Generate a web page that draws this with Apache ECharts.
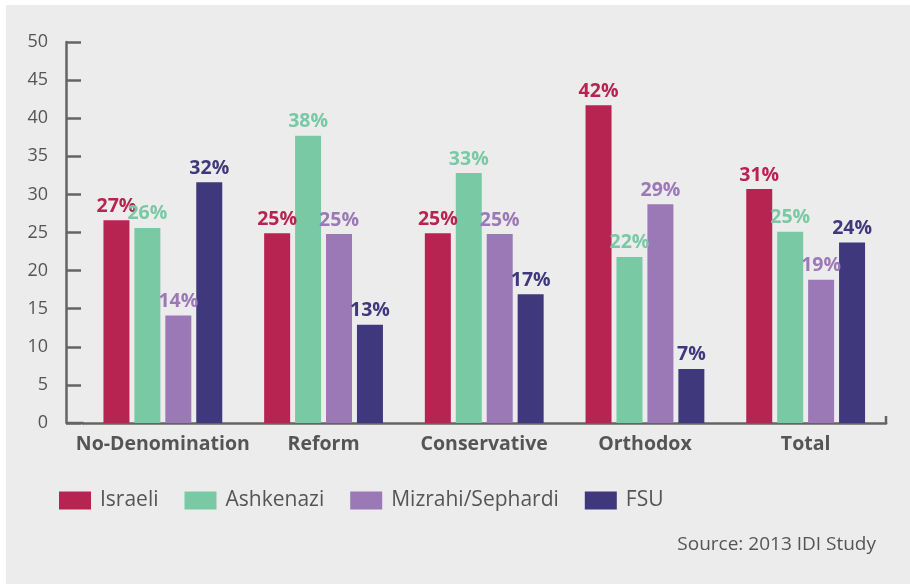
<!DOCTYPE html>
<html>
<head>
<meta charset="utf-8">
<script src="https://cdn.jsdelivr.net/npm/echarts@6/dist/echarts.min.js"></script>
<style>
html,body{margin:0;padding:0;background:#ffffff;}
#chart{width:910px;height:584px;}
</style>
</head>
<body>
<div id="chart"></div>
<script>
var categories = ['No-Denomination', 'Reform', 'Conservative', 'Orthodox', 'Total'];
var seriesNames = ['Israeli', 'Ashkenazi', 'Mizrahi/Sephardi', 'FSU'];
var israeli = [26.6, 24.9, 24.9, 41.7, 30.7];
var ashkenazi = [25.6, 37.7, 32.8, 21.8, 25.1];
var mizrahi = [14.1, 24.8, 24.8, 28.7, 18.8];
var fsu = [31.6, 12.9, 16.9, 7.1, 23.7];
var israeliLabels = [27, 25, 25, 42, 31];
var ashkenaziLabels = [26, 38, 33, 22, 25];
var mizrahiLabels = [14, 25, 25, 29, 19];
var fsuLabels = [32, 13, 17, 7, 24];
var yTicks = [0, 5, 10, 15, 20, 25, 30, 35, 40, 45, 50];
var sourceText = 'Source: 2013 IDI Study';

var colors = ['#b82451', '#79c9a5', '#9b78b6', '#3f387c'];
var FONT = '"Open Sans", "Noto Sans", sans-serif';
var AXIS_COLOR = '#646464';
var TEXT_COLOR = '#555555';

var allValues = [israeli, ashkenazi, mizrahi, fsu];
var allLabels = [israeliLabels, ashkenaziLabels, mizrahiLabels, fsuLabels];

var chart = echarts.init(document.getElementById('chart'), null, {renderer: 'canvas'});

var gridLeft = 82.5, gridRight = 24, gridTop = 42, gridBottom = 161;

var series = seriesNames.map(function (name, i) {
  return {
    name: name,
    type: 'bar',
    data: allValues[i],
    barWidth: 26,
    barGap: '19%',
    itemStyle: {color: colors[i]},
    label: {
      show: true,
      position: 'top',
      distance: 4,
      fontFamily: FONT,
      fontWeight: 'bold',
      fontSize: 19.5,
      color: colors[i],
      formatter: function (p) { return allLabels[i][p.dataIndex] + '%'; }
    }
  };
});

var option = {
  animation: false,
  backgroundColor: '#ffffff',
  color: colors,
  grid: {left: gridLeft, right: gridRight, top: gridTop, bottom: gridBottom, containLabel: false},
  legend: {
    data: seriesNames,
    left: 59,
    top: 490,
    padding: 0,
    itemWidth: 32,
    itemHeight: 18,
    itemGap: 26,
    icon: 'rect',
    textStyle: {fontFamily: FONT, fontSize: 21, color: TEXT_COLOR, padding: [0, 0, 0, 4]}
  },
  xAxis: {
    type: 'category',
    data: categories,
    axisLine: {show: true, lineStyle: {color: AXIS_COLOR, width: 2.5}},
    axisTick: {show: false},
    axisLabel: {
      interval: 0,
      fontFamily: FONT, fontWeight: 'bold', fontSize: 19.5, color: TEXT_COLOR, margin: 11
    }
  },
  yAxis: {
    type: 'value',
    min: yTicks[0],
    max: yTicks[yTicks.length - 1],
    interval: yTicks[1] - yTicks[0],
    offset: 16.5,
    axisLine: {show: true, lineStyle: {color: AXIS_COLOR, width: 2.5}},
    axisTick: {show: true, inside: true, length: 15, lineStyle: {color: AXIS_COLOR, width: 2.5}},
    splitLine: {show: false},
    axisLabel: {fontFamily: FONT, fontSize: 18, color: TEXT_COLOR, margin: 18}
  },
  series: series
};

chart.setOption(option);

var y0 = chart.convertToPixel({yAxisIndex: 0}, 0);
var xRight = 910 - gridRight;
var xAxisLeft = gridLeft - 16.5;
chart.setOption({
  graphic: [
    {type: 'rect', z: -10, silent: true, shape: {x: 6, y: 5, width: 904, height: 579}, style: {fill: '#ececec'}},
    {type: 'line', z: 10, silent: true, shape: {x1: xAxisLeft, y1: y0, x2: gridLeft + 1, y2: y0}, style: {stroke: AXIS_COLOR, lineWidth: 2.5}},
    {type: 'line', z: 10, silent: true, shape: {x1: xRight, y1: y0 + 1, x2: xRight, y2: y0 - 7}, style: {stroke: AXIS_COLOR, lineWidth: 2.5}},
    {type: 'text', z: 10, silent: true, style: {text: sourceText, x: 876, y: 545, align: 'right', verticalAlign: 'middle', font: '19px "Open Sans", "Noto Sans", sans-serif', fill: TEXT_COLOR}}
  ]
});
</script>
</body>
</html>
